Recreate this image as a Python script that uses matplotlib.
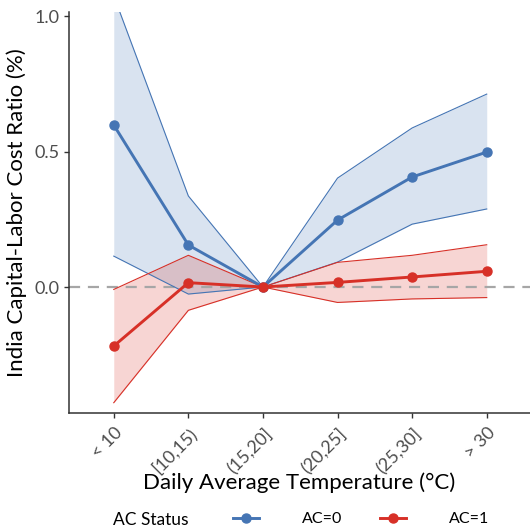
import matplotlib.pyplot as plt
from matplotlib.lines import Line2D

plt.rcParams['font.family'] = ['Lato', 'DejaVu Sans']

# temperature bins on the x axis
bins = ['< 10', '[10,15)', '(15,20]', '(20,25]', '(25,30]', '> 30']

# AC=0: estimate with lower / upper band
ac0 = [0.598, 0.155, 0.0, 0.247, 0.406, 0.498]
ac0_lo = [0.114, -0.026, 0.0, 0.092, 0.232, 0.288]
ac0_hi = [1.075, 0.336, 0.0, 0.402, 0.587, 0.712]

# AC=1: estimate with lower / upper band
ac1 = [-0.218, 0.016, 0.0, 0.017, 0.037, 0.058]
ac1_lo = [-0.427, -0.086, 0.0, -0.057, -0.044, -0.039]
ac1_hi = [-0.009, 0.117, 0.0, 0.091, 0.117, 0.156]

blue = '#4575b4'
red = '#d73027'

fig = plt.figure(figsize=(5.30, 5.27), dpi=100)
ax = fig.add_axes([69 / 530, (527 - 413) / 527, 461 / 530, 401 / 527])

x = list(range(1, len(bins) + 1))

# ribbons
ax.fill_between(x, ac0_lo, ac0_hi, color=blue, alpha=0.2, lw=0, zorder=1)
ax.fill_between(x, ac1_lo, ac1_hi, color=red, alpha=0.2, lw=0, zorder=1.1)
ax.axhline(0, color='#a6a6a6', lw=1.6, ls=(0, (5, 3.5)), zorder=1.5)
for lo, hi, c in [(ac0_lo, ac0_hi, blue), (ac1_lo, ac1_hi, red)]:
    ax.plot(x, lo, color=c, lw=0.8, zorder=2)
    ax.plot(x, hi, color=c, lw=0.8, zorder=2)

# estimates
ax.plot(x, ac0, color=blue, lw=2.1, marker='o', ms=6.5, zorder=3)
ax.plot(x, ac1, color=red, lw=2.1, marker='o', ms=6.5, zorder=3)

ax.set_xlim(0.4, 6.58)
ax.set_ylim(-0.465, 1.015)
ax.set_yticks([0.0, 0.5, 1.0])
ax.set_yticklabels(['0.0', '0.5', '1.0'])
ax.set_xticks(x)
ax.set_xticklabels(bins, rotation=45, ha='right', rotation_mode='anchor')

for s in ['top', 'right']:
    ax.spines[s].set_visible(False)
for s in ['left', 'bottom']:
    ax.spines[s].set_color('#333333')
    ax.spines[s].set_linewidth(1.1)
ax.tick_params(colors='#333333', labelcolor='#4d4d4d', labelsize=13,
               length=3.5, width=1.0)
ax.tick_params(axis='x', pad=5)

ax.set_xlabel('Daily Average Temperature (°C)', fontsize=16, labelpad=-2.6)
ax.set_ylabel('India Capital-Labor Cost Ratio (%)', fontsize=16, labelpad=5)

# legend along the bottom
fig.text(113 / 530, 1 - 525 / 527, 'AC Status', fontsize=12.5, va='baseline')
handles = [Line2D([], [], color=blue, lw=2.1, marker='o', ms=6.5),
           Line2D([], [], color=red, lw=2.1, marker='o', ms=6.5)]
fig.legend(handles, ['AC=0', 'AC=1'], ncol=2, frameon=False,
           loc='center left', bbox_to_anchor=(233 / 530, 1 - 519 / 527),
           fontsize=11.5, handlelength=1.6, handletextpad=2.7,
           columnspacing=2.4, borderpad=0, borderaxespad=0)

fig.savefig('out.png', dpi=100)
